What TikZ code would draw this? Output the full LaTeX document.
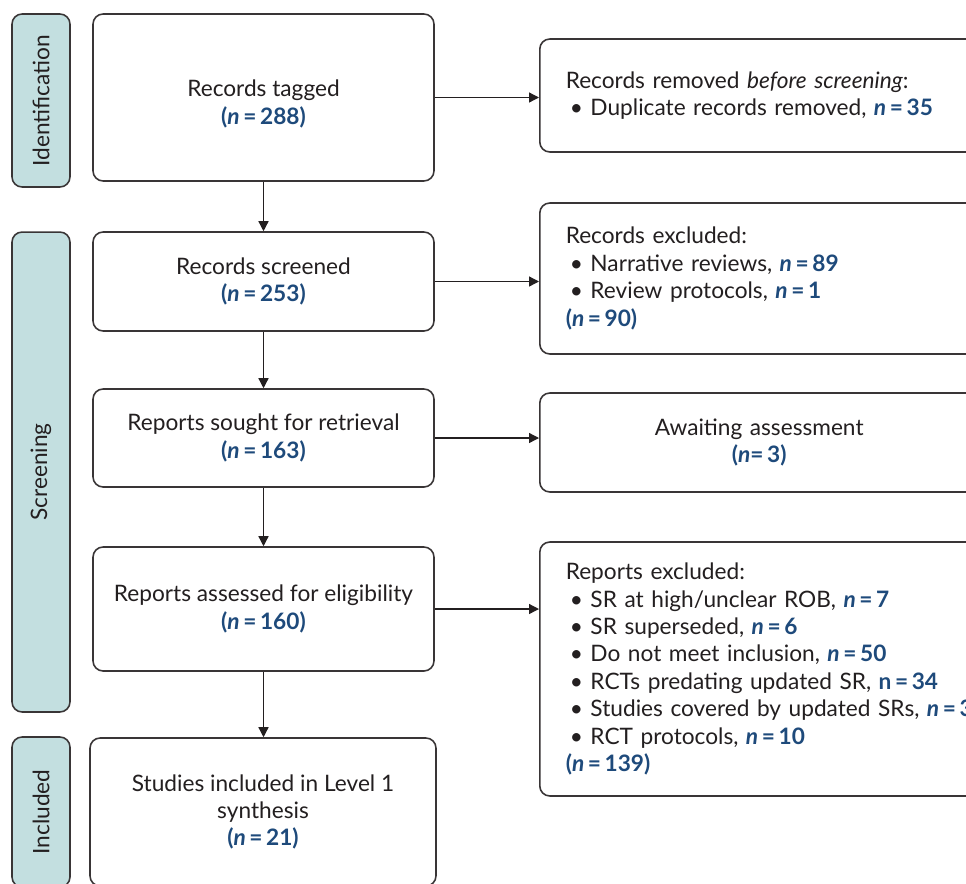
\documentclass[tikz,border=0pt]{standalone}
\usepackage{fontspec}
\setmainfont{Lato}
\usepackage{xcolor}
\usepackage{tikz}
\usetikzlibrary{positioning,arrows.meta}
\definecolor{nblue}{HTML}{1E4A7B}
\definecolor{phasefill}{HTML}{C3DFE0}
\definecolor{ink}{HTML}{231F20}
\newcommand{\ntotal}[1]{\textcolor{nblue}{\bfseries(\textit{n}\hspace{0.16em}=\hspace{0.16em}#1)}}
\newcommand{\nitem}[1]{\textcolor{nblue}{\bfseries\textit{n}\hspace{0.16em}=\hspace{0.16em}#1}}
\newcommand{\bul}{\hspace*{0.08cm}\textbullet\ }

\begin{document}
\begin{tikzpicture}[
  x=0.02cm, y=-0.02cm,
  font=\fontsize{12.9}{15.6}\selectfont, text=ink,
  block/.style={rectangle, rounded corners=0.2cm, draw=ink!90, line width=0.9pt, fill=white, minimum width=6.82cm, align=center},
  sideblock/.style={block, anchor=west, align=left, inner xsep=0.52cm, text width=8.6cm},
  phase/.style={rectangle, rounded corners=0.2cm, draw=ink!90, line width=0.9pt, fill=phasefill, minimum width=1.16cm},
  arrow/.style={-{Triangle[length=0.2cm, width=0.2cm]}, line width=0.75pt, draw=ink}
  ]
  \clip (0,0) rectangle (966,883);
  \node[phase, minimum height=3.46cm] (ident) at (41,100.5) {\rotatebox{90}{Identification}};
  \node[phase, minimum height=9.6cm] (screen) at (41,472) {\rotatebox{90}{Screening}};
  \node[phase, minimum height=3.0cm] (incl) at (41,812) {\rotatebox{90}{Included}};
  \node[block, minimum height=3.34cm] (tagged) at (263.5,97.5) {\rule{0pt}{17pt}Records tagged\\\ntotal{288}};
  \node[block, minimum height=1.98cm] (screened) at (263.5,281.5) {Records screened\\\ntotal{253}};
  \node[block, minimum height=1.96cm] (sought) at (263.5,438) {Reports sought for retrieval\\\ntotal{163}};
  \node[block, minimum height=2.48cm] (assessed) at (263.5,609) {Reports assessed for eligibility\\\ntotal{160}};
  \node[block, minimum width=6.92cm, minimum height=2.96cm] (included) at (263,812) {Studies included in Level 1\\synthesis\\\ntotal{21}};
  \node[sideblock, minimum height=2.26cm] (removed) at (539,95.5) {Records removed \textit{before screening}:\\\bul Duplicate records removed, \nitem{35}};
  \node[sideblock, minimum height=3.02cm] (excluded) at (539,278.5) {Records excluded:\\\bul Narrative reviews, \nitem{89}\\\bul Review protocols, \nitem{1}\\\ntotal{90}};
  \node[sideblock, align=center, text width=7.74cm, minimum height=1.98cm] (awaiting) at (539,442.5) {Awaiting assessment\\\textcolor{nblue}{\bfseries(\textit{n}=\hspace{0.16em}3)}};
  \node[sideblock, minimum height=5.08cm] (repexcl) at (539,669) {Reports excluded:\\\bul SR at high/unclear ROB, \nitem{7}\\\bul SR superseded, \nitem{6}\\\bul Do not meet inclusion, \nitem{50}\\\bul RCTs predating updated SR, \textcolor{nblue}{\bfseries n\hspace{0.16em}=\hspace{0.16em}34}\\\bul Studies covered by updated SRs, \nitem{32}\\\bul RCT protocols, \nitem{10}\\\ntotal{139}};
  \draw[arrow] (tagged) -- (screened);
  \draw[arrow] (screened) -- (sought);
  \draw[arrow] (sought) -- (assessed);
  \draw[arrow] (assessed.south) -- (assessed.south |- included.north);
  \draw[arrow] (tagged.east) -- (tagged.east -| removed.west);
  \draw[arrow] (screened.east) -- (screened.east -| excluded.west);
  \draw[arrow] (sought.east) -- (sought.east -| awaiting.west);
  \draw[arrow] (assessed.east) -- (assessed.east -| repexcl.west);
\end{tikzpicture}
\end{document}
